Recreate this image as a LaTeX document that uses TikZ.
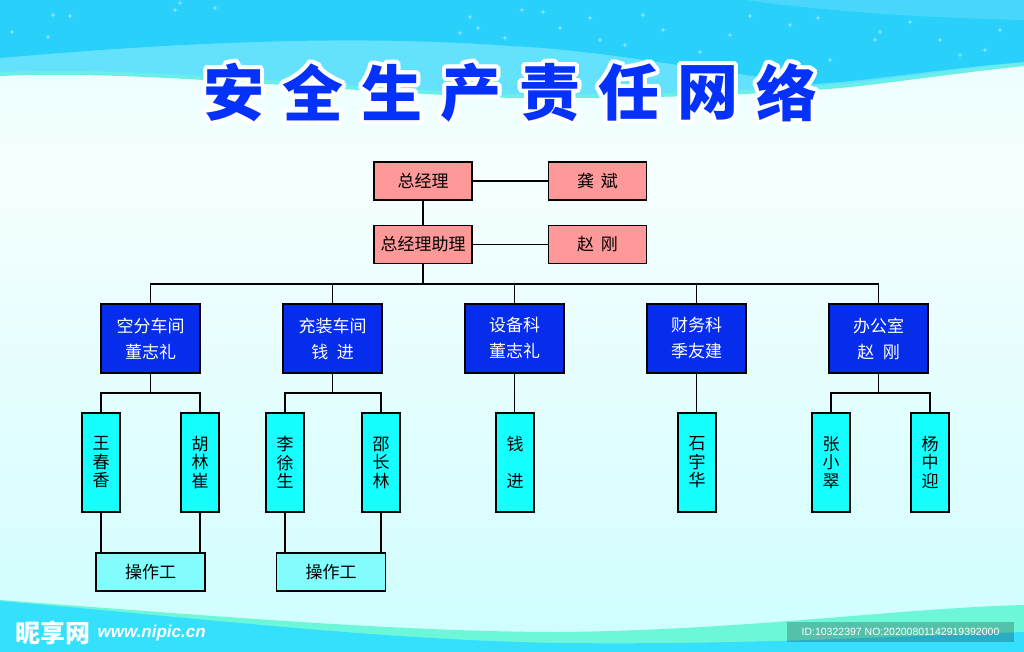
\documentclass[tikz,border=0pt]{standalone}
\usepackage{fontspec}
\newfontfamily\cjk{Noto Sans CJK SC}
\newfontfamily\idfont{Liberation Sans}
\definecolor{bosspink}{RGB}{255,153,153}
\definecolor{deptblue}{RGB}{5,45,235}
\definecolor{staffcyan}{RGB}{22,255,255}
\definecolor{workcyan}{RGB}{130,252,252}
\definecolor{titleblue}{RGB}{5,50,250}
\definecolor{skyblue}{RGB}{40,208,250}
\definecolor{skylight}{RGB}{100,225,252}
\definecolor{seagreen}{RGB}{108,248,216}
\definecolor{seablue}{RGB}{52,224,252}
\definecolor{bgtop}{RGB}{200,252,253}
\definecolor{bgwhite}{RGB}{246,255,255}
\definecolor{bgbot}{RGB}{172,255,255}
\pgfdeclareverticalshading{paleback}{100bp}{color(0bp)=(bgbot); color(35bp)=(bgtop!60!bgwhite); color(62bp)=(bgwhite); color(100bp)=(bgtop)}

\begin{document}
\begin{tikzpicture}[x=1pt,y=-1pt,line width=1.8pt,
  boss/.style={draw,fill=bosspink,minimum width=98pt,minimum height=38pt,
    font=\cjk\fontsize{17}{20}\selectfont},
  dept/.style={draw,fill=deptblue,text=white,minimum width=99pt,minimum height=69pt,
    align=center,font=\cjk\fontsize{17}{26}\selectfont},
  staff/.style={draw,fill=staffcyan,minimum width=38pt,minimum height=99pt,
    align=center,font=\cjk\fontsize{17}{18.5}\selectfont},
  worker/.style={draw,fill=workcyan,minimum width=109pt,minimum height=38pt,
    font=\cjk\fontsize{17}{20}\selectfont},
  titlechar/.style={font=\cjk\bfseries\fontsize{61}{64}\selectfont},
  sparkle/.style={fill=white,opacity=0.45}]
\useasboundingbox (0,0) rectangle (1024,652);

% background
\fill[shading=paleback] (0,0) rectangle (1024,652);
\fill[seagreen!60!skylight] (0,0) -- (1024,0) -- (1024,66) .. controls (930,76) and (860,88) .. (812,90)
  .. controls (700,98) and (600,98) .. (512,98) .. controls (300,90) and (150,70) .. (0,76) -- cycle;
\fill[skylight] (0,0) -- (1024,0) -- (1024,62) .. controls (930,72) and (860,84) .. (812,86)
  .. controls (700,94) and (600,94) .. (512,94) .. controls (300,86) and (150,66) .. (0,72) -- cycle;
\fill[skyblue] (0,0) -- (1024,0) -- (1024,62) .. controls (930,70) and (860,82) .. (812,84)
  .. controls (700,70) and (600,50) .. (512,46) .. controls (400,38) and (250,36) .. (0,58) -- cycle;
\fill[white,opacity=0.15] (745,0) .. controls (830,12) and (930,18) .. (1024,20) -- (1024,0) -- cycle;
\foreach \sx/\sy in {53/15,70/16,12/32,48/37,180/3,175/10,215/8,470/17,460/33,478/28,505/38,
    522/10,543/12,590/18,625/45,643/15,663/30,730/35,750/16,790/25,818/18,830/60,
    875/40,880/32,910/22,940/40,960/55,985/50,1000/30,700/52,600/40,560/28}
  \fill[sparkle] ({\sx-3},\sy) -- (\sx,{\sy-0.8}) -- ({\sx+3},\sy) -- (\sx,{\sy+0.8}) -- cycle
    (\sx,{\sy-3}) -- ({\sx+0.8},\sy) -- (\sx,{\sy+3}) -- ({\sx-0.8},\sy) -- cycle;
\fill[seagreen] (0,600) .. controls (200,615) and (400,632) .. (560,632)
  .. controls (750,630) and (900,608) .. (1024,605) -- (1024,652) -- (0,652) -- cycle;
\fill[seablue] (0,601) .. controls (200,618) and (380,640) .. (560,643)
  .. controls (750,645) and (900,636) .. (1024,632) -- (1024,652) -- (0,652) -- cycle;

% title
\foreach \ch [count=\i from 0] in {安,全,生,产,责,任,网,络} {
  \foreach \a in {0,22.5,...,337.5}
    \node[titlechar,text=white] at ({234+79*\i+4*cos(\a)},{92.5+4*sin(\a)}) {\ch};
  \node[titlechar,text=titleblue] (title\i) at (234+79*\i,92.5) {\ch};
}

% management
\node[boss] (zjl) at (423,181) {总经理};
\node[boss] (gongbin) at (597.5,181) {龚\hspace{0.4em}斌};
\node[boss] (zjlzl) at (423,244.5) {总经理助理};
\node[boss] (zhaogang) at (597.5,244.5) {赵\hspace{0.4em}刚};

% departments
\node[dept] (kfcj) at (150.5,338.5) {空分车间\\董志礼};
\node[dept] (czcj) at (332.5,338.5) {充装车间\\钱\hspace{0.5em}进};
\node[dept] (sbk) at (514.5,338.5) {设备科\\董志礼};
\node[dept] (cwk) at (696.5,338.5) {财务科\\季友建};
\node[dept] (bgs) at (878.5,338.5) {办公室\\赵\hspace{0.5em}刚};

% staff
\node[staff] (wcx) at (101,462.5) {王\\春\\香};
\node[staff] (hlc) at (200,462.5) {胡\\林\\崔};
\node[staff] (lxs) at (285,462.5) {李\\徐\\生};
\node[staff] (scl) at (381,462.5) {邵\\长\\林};
\node[staff] (qj) at (515,462.5) {钱\\\mbox{}\\进};
\node[staff] (syh) at (697,462.5) {石\\宇\\华};
\node[staff] (zxc) at (831,462.5) {张\\小\\翠};
\node[staff] (yzy) at (930,462.5) {杨\\中\\迎};

\node[worker] (czga) at (150.5,572) {操作工};
\node[worker] (czgb) at (331,572) {操作工};

% connectors
\coordinate (bus) at (0,284);
\coordinate (sub) at (0,393);
\draw (zjl) -- (gongbin);
\draw (zjl) -- (zjlzl);
\draw (zjlzl) -- (zhaogang);
\draw (zjlzl.south) -- (zjlzl.south |- bus);
\draw (kfcj.north) -- (kfcj.north |- bus) -- (bgs.north |- bus) -- (bgs.north);
\foreach \d in {czcj,sbk,cwk}
  \draw (\d.north) -- (\d.north |- bus);
\draw (kfcj.south) -- (kfcj.south |- sub);
\draw (wcx.north) |- (kfcj.south |- sub) -| (hlc.north);
\draw (czcj.south) -- (czcj.south |- sub);
\draw (lxs.north) |- (czcj.south |- sub) -| (scl.north);
\draw (sbk.south) -- (sbk.south |- qj.north);
\draw (cwk.south) -- (cwk.south |- syh.north);
\draw (bgs.south) -- (bgs.south |- sub);
\draw (zxc.north) |- (bgs.south |- sub) -| (yzy.north);
\foreach \s/\w in {wcx/czga,hlc/czga,lxs/czgb,scl/czgb}
  \draw (\s.south) -- (\s.south |- \w.north);

% watermark
\node[text=white,anchor=west,inner sep=0pt,font=\cjk\bfseries\itshape\fontsize{25}{27}\selectfont]
  (nipic) at (15,633) {昵享网};
\node[text=white,anchor=west,inner sep=0pt,font=\idfont\bfseries\itshape\fontsize{17}{19}\selectfont]
  (nipicurl) at ([xshift=5pt]nipic.east) {www.nipic.cn};
\node[fill=black,fill opacity=0.22,text opacity=1,text=white,minimum width=227pt,
  minimum height=20pt,inner sep=0pt,font=\idfont\fontsize{10.5}{12}\selectfont]
  (picid) at (900.5,632) {ID:10322397 NO:20200801142919392000};
\end{tikzpicture}
\end{document}
